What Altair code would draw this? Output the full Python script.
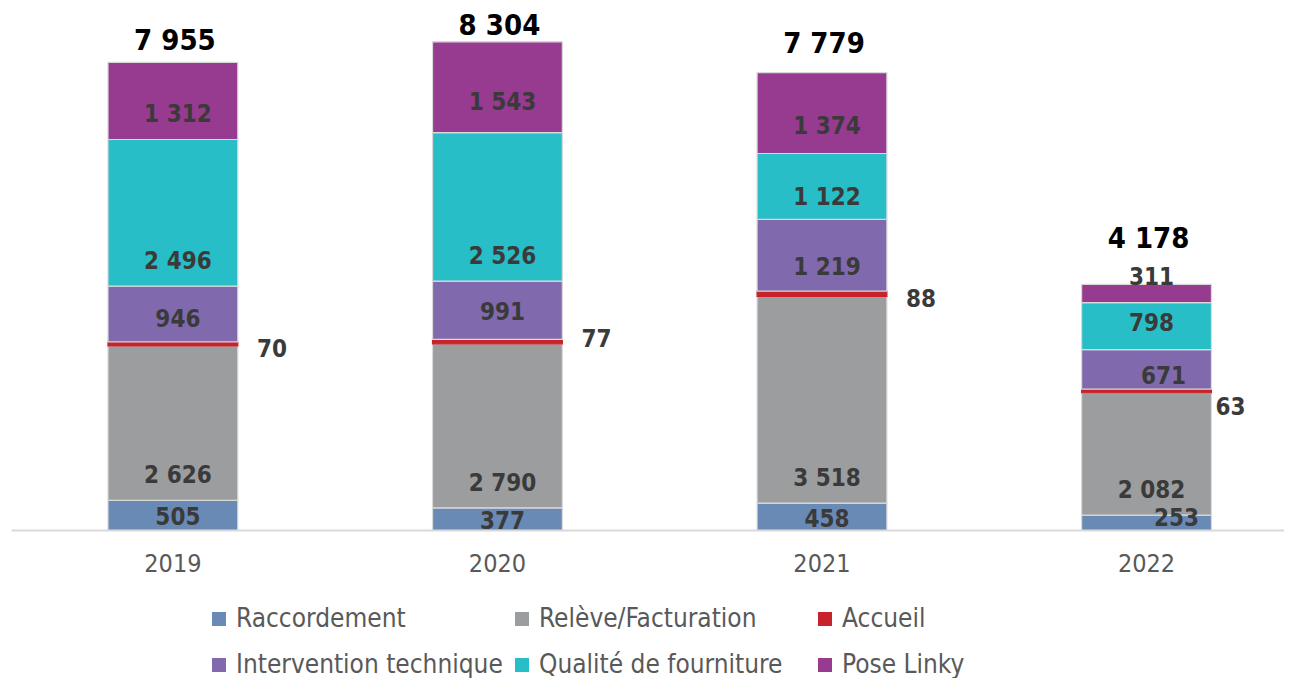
import altair as alt
import pandas as pd

# ---------------- data ----------------
years = ["2019", "2020", "2021", "2022"]
series_names = ["Raccordement", "Relève/Facturation", "Accueil",
                "Intervention technique", "Qualité de fourniture", "Pose Linky"]
raccordement = [505, 377, 458, 253]
releve_facturation = [2626, 2790, 3518, 2082]
accueil = [70, 77, 88, 63]
intervention_technique = [946, 991, 1219, 671]
qualite_fourniture = [2496, 2526, 1122, 798]
pose_linky = [1312, 1543, 1374, 311]

series_values = [raccordement, releve_facturation, accueil,
                 intervention_technique, qualite_fourniture, pose_linky]
colors = ["#6A8AB6", "#9C9D9F", "#C8222A", "#806AAD", "#27BEC8", "#973B91"]

# ---------------- styling ----------------
FONT = "DejaVu Sans Condensed"
LABEL_COLOR = "#3A3A3A"
TEXT_GRAY = "#595959"

# pixel nudges for individual labels (dx, dy)
nudges = {
    ("2019", "Qualité de fourniture"): (0, 25),
    ("2020", "Qualité de fourniture"): (0, 26),
    ("2020", "Intervention technique"): (0, -8),
    ("2019", "Intervention technique"): (0, -4),
    ("2022", "Qualité de fourniture"): (0, -11),
    ("2022", "Pose Linky"): (0, -20),
    ("2022", "Raccordement"): (25, -7),
    ("2022", "Intervention technique"): (12, 0),
    ("2020", "Accueil"): (0, -8),
    ("2022", "Accueil"): (-15, 11),
}
total_gap = {"2019": 12, "2020": 7, "2021": 20, "2022": 36}


def fmt(v):
    return f"{v:,}".replace(",", " ")


rows = []
for yi, yr in enumerate(years):
    base = 0
    for si, name in enumerate(series_names):
        v = series_values[si][yi]
        rows.append(dict(year=yr, series=name, order=si, value=v,
                         y0=base, y1=base + v, label=fmt(v)))
        base += v
df = pd.DataFrame(rows)

# label anchors (data units) and pixel offsets
lab = df.copy()
lab["ly"] = lab["y0"] + 0.35 * lab["value"]
lab["dx"] = 5
lab["dy"] = 9
lab["align"] = "center"
m = lab["series"] == "Raccordement"
lab.loc[m, "ly"] = (lab.loc[m, "y0"] + lab.loc[m, "y1"]) / 2
lab.loc[m, "dy"] = 10
m = lab["series"] == "Relève/Facturation"
lab.loc[m, "ly"] = lab.loc[m, "y0"]
lab.loc[m, "dy"] = -17
m = lab["series"] == "Accueil"
lab.loc[m, "ly"] = (lab.loc[m, "y0"] + lab.loc[m, "y1"]) / 2
lab.loc[m, "dx"] = 84
lab.loc[m, "dy"] = 13
lab.loc[m, "align"] = "left"
for (yr, s), (ndx, ndy) in nudges.items():
    mm = (lab["year"] == yr) & (lab["series"] == s)
    lab.loc[mm, "dx"] += ndx
    lab.loc[mm, "dy"] += ndy

tot = df.groupby("year", as_index=False)["value"].sum()
tot["label"] = tot["value"].map(fmt)

# ---------------- scales ----------------
xscale = alt.Scale(domain=years, paddingInner=0.6, paddingOuter=0.2612, align=0.572)
yscale = alt.Scale(domain=[0, 8880], nice=False, zero=True)

bars = alt.Chart(df).mark_bar(strokeWidth=1.2).encode(
    x=alt.X("year:N", scale=xscale, sort=years, title=None,
            axis=alt.Axis(labelAngle=0, ticks=False, tickSize=0, domain=True,
                          domainColor="#D9D9D9", domainWidth=2,
                          labelFont=FONT, labelFontSize=25, labelColor=TEXT_GRAY,
                          labelPadding=21, grid=False)),
    y=alt.Y("y0:Q", scale=yscale, axis=None),
    y2="y1:Q",
    color=alt.Color("series:N",
                    scale=alt.Scale(domain=series_names, range=colors),
                    legend=alt.Legend(title=None, orient="none",
                                      legendX=195, legendY=598,
                                      direction="horizontal", columns=3,
                                      gridAlign="all", columnPadding=6,
                                      rowPadding=20, symbolType="square",
                                      symbolSize=196, symbolStrokeWidth=0,
                                      labelOffset=4, labelFont=FONT,
                                      labelFontSize=26, labelColor=TEXT_GRAY,
                                      labelLimit=400, padding=0)),
    stroke=alt.condition(alt.datum.series == "Accueil",
                         alt.value("#C8222A"), alt.value("#D9D9D9")),
)

layers = [bars]
for (dx, dy, align), sub in lab.groupby(["dx", "dy", "align"]):
    layers.append(
        alt.Chart(sub.drop(columns=["align"])).mark_text(
            font=FONT, fontSize=24, fontWeight="bold", color=LABEL_COLOR,
            baseline="alphabetic", align=align, dx=float(dx), dy=float(dy)
        ).encode(
            x=alt.X("year:N", scale=xscale, sort=years),
            y=alt.Y("ly:Q", scale=yscale),
            text="label:N",
        )
    )

for yr in years:
    sub = tot[tot["year"] == yr]
    layers.append(
        alt.Chart(sub).mark_text(
            font=FONT, fontSize=29, fontWeight="bold", color="#000000",
            baseline="alphabetic", align="center", dx=2, dy=-float(total_gap[yr])
        ).encode(
            x=alt.X("year:N", scale=xscale, sort=years),
            y=alt.Y("value:Q", scale=yscale),
            text="label:N",
        )
    )

chart = alt.layer(*layers).properties(
    width=1273, height=522,
    background="white",
    padding={"left": 3, "top": 0, "right": 0, "bottom": 0},
).configure_view(strokeWidth=0, stroke="transparent")

chart.save("out.html", embed_options={"renderer": "svg", "actions": False})
